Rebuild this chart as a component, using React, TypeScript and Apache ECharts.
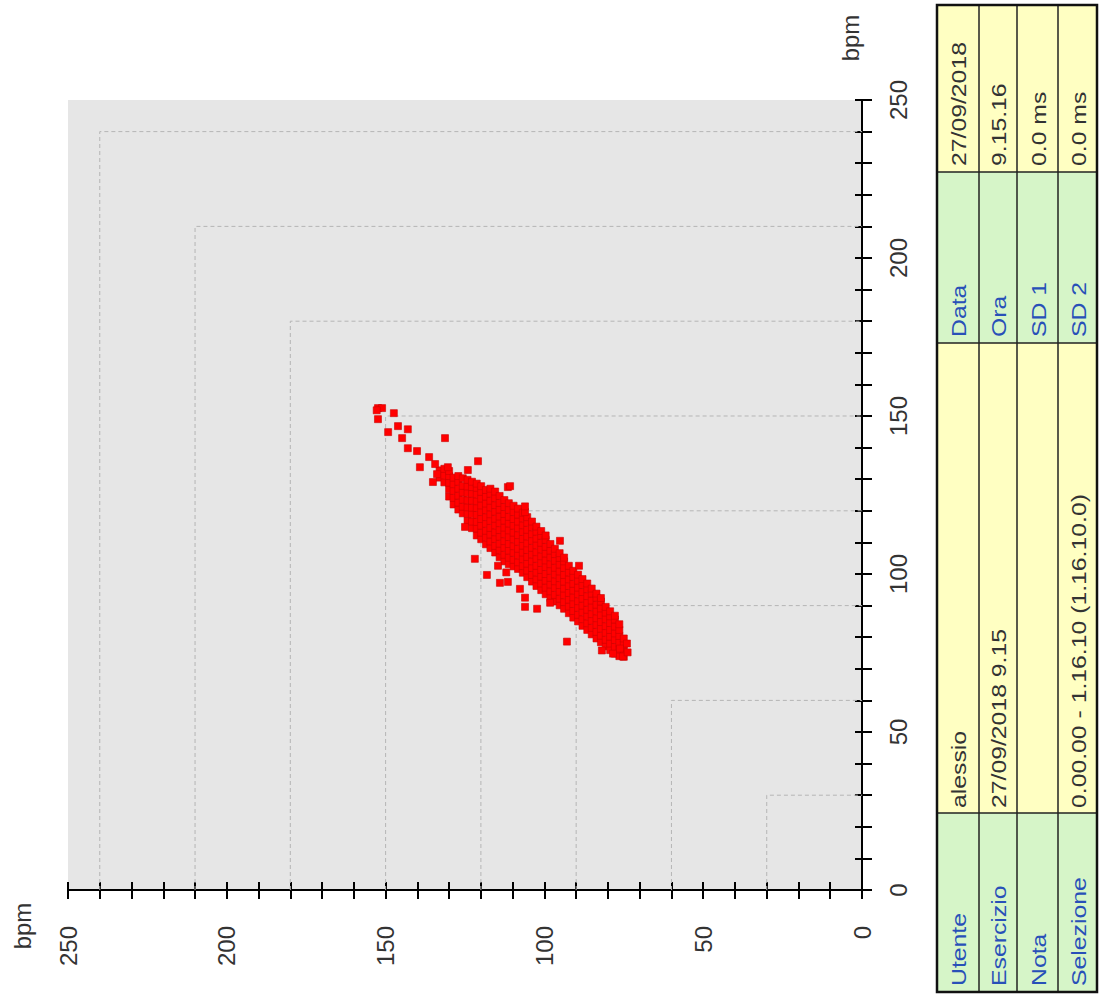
import React, { useEffect, useRef } from "react";
import * as echarts from "echarts";

// ---- data ----
const tickLabels = [0, 50, 100, 150, 200, 250];
const gridLevels = [30, 60, 90, 120, 150, 180, 210, 240];

// dense band of RR points: [h (horizontal, bpm), list of v (vertical, bpm)]
const coreRows: [number, number[]][] = [
  [133.0, [130.5, 132.8]],
  [131.5, [129.0, 131.2, 133.3]],
  [130.0, [124.5, 126.8, 128.9, 131.0, 132.6]],
  [128.6, [122.0, 124.1, 126.3, 128.4, 130.5]],
  [127.1, [120.4, 122.6, 124.8, 127.0, 129.2, 131.0]],
  [125.7, [119.2, 121.3, 123.5, 125.8, 127.9, 130.3]],
  [124.2, [116.8, 119.0, 121.1, 123.3, 125.6, 127.7, 129.8]],
  [122.8, [114.5, 116.6, 118.9, 121.0, 123.2, 125.4, 127.5, 129.2]],
  [121.3, [112.2, 114.4, 116.5, 118.7, 120.9, 123.0, 125.2, 127.3, 128.6]],
  [119.9, [111.0, 113.1, 115.3, 117.4, 119.6, 121.7, 123.9, 126.0, 127.8]],
  [118.4, [109.4, 111.6, 113.7, 115.9, 118.0, 120.2, 122.3, 124.5, 126.6]],
  [117.0, [108.2, 110.3, 112.5, 114.6, 116.8, 118.9, 121.1, 123.2, 125.4, 127.0]],
  [115.5, [106.8, 108.9, 111.1, 113.2, 115.4, 117.5, 119.7, 121.8, 124.0, 126.1]],
  [114.1, [105.3, 107.5, 109.6, 111.8, 113.9, 116.1, 118.2, 120.4, 122.5, 124.7]],
  [112.6, [104.0, 106.1, 108.3, 110.4, 112.6, 114.7, 116.9, 119.0, 121.2, 123.4]],
  [111.2, [103.1, 105.2, 107.4, 109.5, 111.7, 113.8, 116.0, 118.1, 120.3, 122.4]],
  [109.7, [102.4, 104.5, 106.7, 108.8, 111.0, 113.1, 115.3, 117.4, 119.6, 121.6]],
  [108.3, [101.6, 103.7, 105.9, 108.0, 110.2, 112.3, 114.5, 116.6, 118.8, 120.7]],
  [106.8, [100.4, 102.5, 104.7, 106.8, 109.0, 111.1, 113.3, 115.4, 117.6, 119.4]],
  [105.4, [99.0, 101.1, 103.3, 105.4, 107.6, 109.7, 111.9, 114.0, 116.2, 118.0]],
  [103.9, [97.6, 99.7, 101.9, 104.0, 106.2, 108.3, 110.5, 112.6, 114.8, 116.6]],
  [102.5, [96.2, 98.3, 100.5, 102.6, 104.8, 106.9, 109.1, 111.2, 113.4, 115.0]],
  [101.0, [94.9, 97.0, 99.2, 101.3, 103.5, 105.6, 107.8, 109.9, 112.1, 113.6]],
  [99.6, [93.6, 95.7, 97.9, 100.0, 102.2, 104.3, 106.5, 108.6, 110.8, 112.2]],
  [98.1, [92.4, 94.5, 96.7, 98.8, 101.0, 103.1, 105.3, 107.4, 109.5]],
  [96.7, [91.3, 93.4, 95.6, 97.7, 99.9, 102.0, 104.2, 106.3, 108.0]],
  [95.2, [90.1, 92.2, 94.4, 96.5, 98.7, 100.8, 103.0, 105.1, 106.6]],
  [93.8, [89.0, 91.1, 93.3, 95.4, 97.6, 99.7, 101.9, 104.0, 105.2]],
  [92.3, [87.6, 89.7, 91.9, 94.0, 96.2, 98.3, 100.5, 102.6]],
  [90.9, [86.2, 88.3, 90.5, 92.6, 94.8, 96.9, 99.1, 101.0]],
  [89.4, [85.0, 87.1, 89.3, 91.4, 93.6, 95.7, 97.9, 99.8]],
  [88.0, [83.6, 85.7, 87.9, 90.0, 92.2, 94.3, 96.5, 98.4]],
  [86.5, [82.3, 84.4, 86.6, 88.7, 90.9, 93.0, 95.2, 97.0]],
  [85.1, [80.9, 83.0, 85.2, 87.3, 89.5, 91.6, 93.8, 95.4]],
  [83.6, [79.6, 81.7, 83.9, 86.0, 88.2, 90.3, 92.5, 93.8]],
  [82.2, [78.4, 80.5, 82.7, 84.8, 87.0, 89.1, 91.3, 92.4]],
  [80.7, [77.1, 79.2, 81.4, 83.5, 85.7, 87.8, 89.6]],
  [79.3, [75.9, 78.0, 80.2, 82.3, 84.5, 86.6, 88.2]],
  [77.8, [74.8, 76.9, 79.1, 81.2, 83.4, 85.6, 86.8]],
  [76.4, [74.0, 76.1, 78.3, 80.4, 82.3, 84.1]],
  [75.0, [73.8, 75.6, 77.7, 79.6]],
];

// scattered points outside the dense band
const outliers: [number, number][] = [
  [152.4, 152.5], [151.1, 152.5], [152.8, 151.8], [147.4, 150.9], [152.4, 149.0],
  [146.1, 146.8], [143.0, 145.8], [149.2, 144.9], [144.8, 143.0], [131.3, 143.0],
  [143.0, 139.8], [140.1, 138.9], [136.3, 137.0], [139.2, 133.8], [134.4, 134.8],
  [130.4, 133.8], [120.9, 135.7], [124.1, 132.9], [133.8, 131.6], [135.1, 129.1],
  [111.5, 127.5], [110.8, 127.8], [125.0, 114.9], [106.1, 119.6], [106.1, 121.4],
  [95.1, 110.5], [89.1, 102.6], [121.9, 104.8], [118.1, 99.7], [114.6, 102.6],
  [112.0, 100.5], [111.5, 97.5], [114.0, 97.2], [107.7, 95.3], [106.1, 92.5],
  [106.1, 89.6], [102.3, 89.0], [98.2, 90.9], [92.9, 78.6], [74.0, 78.0],
  [75.3, 73.9], [78.4, 74.8], [81.9, 75.8], [76.2, 76.4], [73.8, 75.2],
];

const tableLabels1 = ["Utente", "Esercizio", "Nota", "Selezione"];
const tableValues1 = ["alessio", "27/09/2018 9.15", "", "0.00.00 - 1.16.10 (1.16.10.0)"];
const tableLabels2 = ["Data", "Ora", "SD 1", "SD 2"];
const tableValues2 = ["27/09/2018", "9.15.16", "0.0 ms", "0.0 ms"];

const FONT = "'Liberation Sans', Arial, sans-serif";

export default function App() {
  const ref = useRef<HTMLDivElement>(null);

  useEffect(() => {
    if (!ref.current) return;
    const chart = echarts.init(ref.current, undefined, { renderer: "svg" });

    const points: [number, number][] = [
      ...coreRows.flatMap(([h, vs]) => vs.map((v) => [h, v] as [number, number])),
      ...outliers,
    ];

    const labelFmt = (v: number) => (tickLabels.includes(v) ? String(v) : "");

    const baseX = {
      type: "value" as const,
      min: 0,
      max: 250,
      interval: 10,
      inverse: true,
      position: "bottom" as const,
      splitLine: { show: false },
    };
    const baseY = {
      type: "value" as const,
      min: 0,
      max: 250,
      interval: 10,
      position: "right" as const,
      splitLine: { show: false },
    };

    // table geometry
    const colX = [937, 979, 1017, 1058, 1097];
    const segY = { top: 5, v2Bottom: 172, l2Bottom: 343, v1Bottom: 813, bottom: 992 };
    const green = "#d6f5c8";
    const yellow = "#ffffc2";
    const graphics: any[] = [];
    for (let i = 0; i < 4; i++) {
      const x0 = colX[i];
      const w = colX[i + 1] - colX[i];
      graphics.push(
        { type: "rect", shape: { x: x0, y: segY.v1Bottom, width: w, height: segY.bottom - segY.v1Bottom }, style: { fill: green } },
        { type: "rect", shape: { x: x0, y: segY.l2Bottom, width: w, height: segY.v1Bottom - segY.l2Bottom }, style: { fill: yellow } },
        { type: "rect", shape: { x: x0, y: segY.v2Bottom, width: w, height: segY.l2Bottom - segY.v2Bottom }, style: { fill: green } },
        { type: "rect", shape: { x: x0, y: segY.top, width: w, height: segY.v2Bottom - segY.top }, style: { fill: yellow } }
      );
    }
    // inner lines
    for (let i = 1; i < 4; i++) {
      graphics.push({ type: "line", shape: { x1: colX[i], y1: segY.top, x2: colX[i], y2: segY.bottom }, style: { stroke: "#222", lineWidth: 1.5 } });
    }
    [segY.v2Bottom, segY.l2Bottom, segY.v1Bottom].forEach((y) => {
      graphics.push({ type: "line", shape: { x1: colX[0], y1: y, x2: colX[4], y2: y }, style: { stroke: "#222", lineWidth: 1.5 } });
    });
    graphics.push({
      type: "rect",
      shape: { x: colX[0], y: segY.top, width: colX[4] - colX[0], height: segY.bottom - segY.top },
      style: { fill: "none", stroke: "#111", lineWidth: 2.5 },
    });
    const rotText = (text: string, x: number, y: number, fill: string) => ({
      type: "text",
      x,
      y,
      rotation: Math.PI / 2,
      scaleX: 1.18,
      scaleY: 1,
      style: {
        text,
        fill,
        fontSize: 21,
        fontFamily: FONT,
        textAlign: "left",
        textVerticalAlign: "middle",
        align: "left",
        verticalAlign: "middle",
      },
    });
    for (let i = 0; i < 4; i++) {
      const cx = (colX[i] + colX[i + 1]) / 2 + 1;
      graphics.push(rotText(tableLabels1[i], cx, segY.bottom - 6, "#2850b8"));
      if (tableValues1[i]) graphics.push(rotText(tableValues1[i], cx, segY.v1Bottom - 5, "#333"));
      graphics.push(rotText(tableLabels2[i], cx, segY.l2Bottom - 6, "#2850b8"));
      graphics.push(rotText(tableValues2[i], cx, segY.v2Bottom - 6, "#333"));
    }
    // axis names
    const nameText = (x: number, y: number) => ({
      type: "text",
      x,
      y,
      rotation: Math.PI / 2,
      style: {
        text: "bpm",
        fill: "#333",
        fontSize: 24,
        fontFamily: FONT,
        textAlign: "center",
        textVerticalAlign: "middle",
        align: "center",
        verticalAlign: "middle",
      },
    });
    graphics.push(nameText(22, 926), nameText(850, 38));

    chart.setOption({
      animation: false,
      backgroundColor: "#ffffff",
      grid: {
        left: 68,
        top: 100,
        width: 794,
        height: 790,
        show: true,
        backgroundColor: "#e6e6e6",
        borderWidth: 0,
      },
      xAxis: [
        {
          ...baseX,
          axisLine: { show: true, onZero: false, lineStyle: { color: "#000", width: 2 } },
          axisTick: { show: true, inside: false, length: 9, lineStyle: { color: "#000", width: 2 } },
          axisLabel: {
            show: true,
            rotate: 90,
            margin: 36,
            fontSize: 24,
            fontFamily: FONT,
            color: "#333",
            formatter: labelFmt,
          },
        },
        {
          ...baseX,
          axisLine: { show: false, onZero: false },
          axisTick: { show: true, inside: true, length: 8, lineStyle: { color: "#000", width: 2 } },
          axisLabel: { show: false },
        },
      ],
      yAxis: [
        {
          ...baseY,
          axisLine: { show: true, onZero: false, lineStyle: { color: "#000", width: 2 } },
          axisTick: { show: true, inside: false, length: 10, lineStyle: { color: "#000", width: 2 } },
          axisLabel: {
            show: true,
            rotate: 90,
            margin: 24,
            fontSize: 24,
            fontFamily: FONT,
            color: "#333",
            formatter: labelFmt,
          },
        },
        {
          ...baseY,
          axisLine: { show: false, onZero: false },
          axisTick: { show: true, inside: true, length: 7, lineStyle: { color: "#000", width: 2 } },
          axisLabel: { show: false },
        },
      ],
      series: [
        ...gridLevels.map((lv) => ({
          type: "line",
          xAxisIndex: 0,
          yAxisIndex: 0,
          data: [
            [lv, 0],
            [lv, lv],
            [0, lv],
          ],
          symbol: "none",
          silent: true,
          lineStyle: { type: [4, 3], color: "#b5b5b5", width: 1 },
          z: 1,
        })),
        {
          type: "scatter",
          xAxisIndex: 0,
          yAxisIndex: 0,
          data: points,
          symbol: "rect",
          symbolSize: 7,
          itemStyle: { color: "#ff0000", borderColor: "#cc0000", borderWidth: 0.6, opacity: 1 },
          z: 3,
        },
      ],
      graphic: graphics,
    });

    return () => chart.dispose();
  }, []);

  return (
    <div
      ref={ref}
      style={{ position: "fixed", left: 0, top: 0, width: 1103, height: 997 }}
    />
  );
}
